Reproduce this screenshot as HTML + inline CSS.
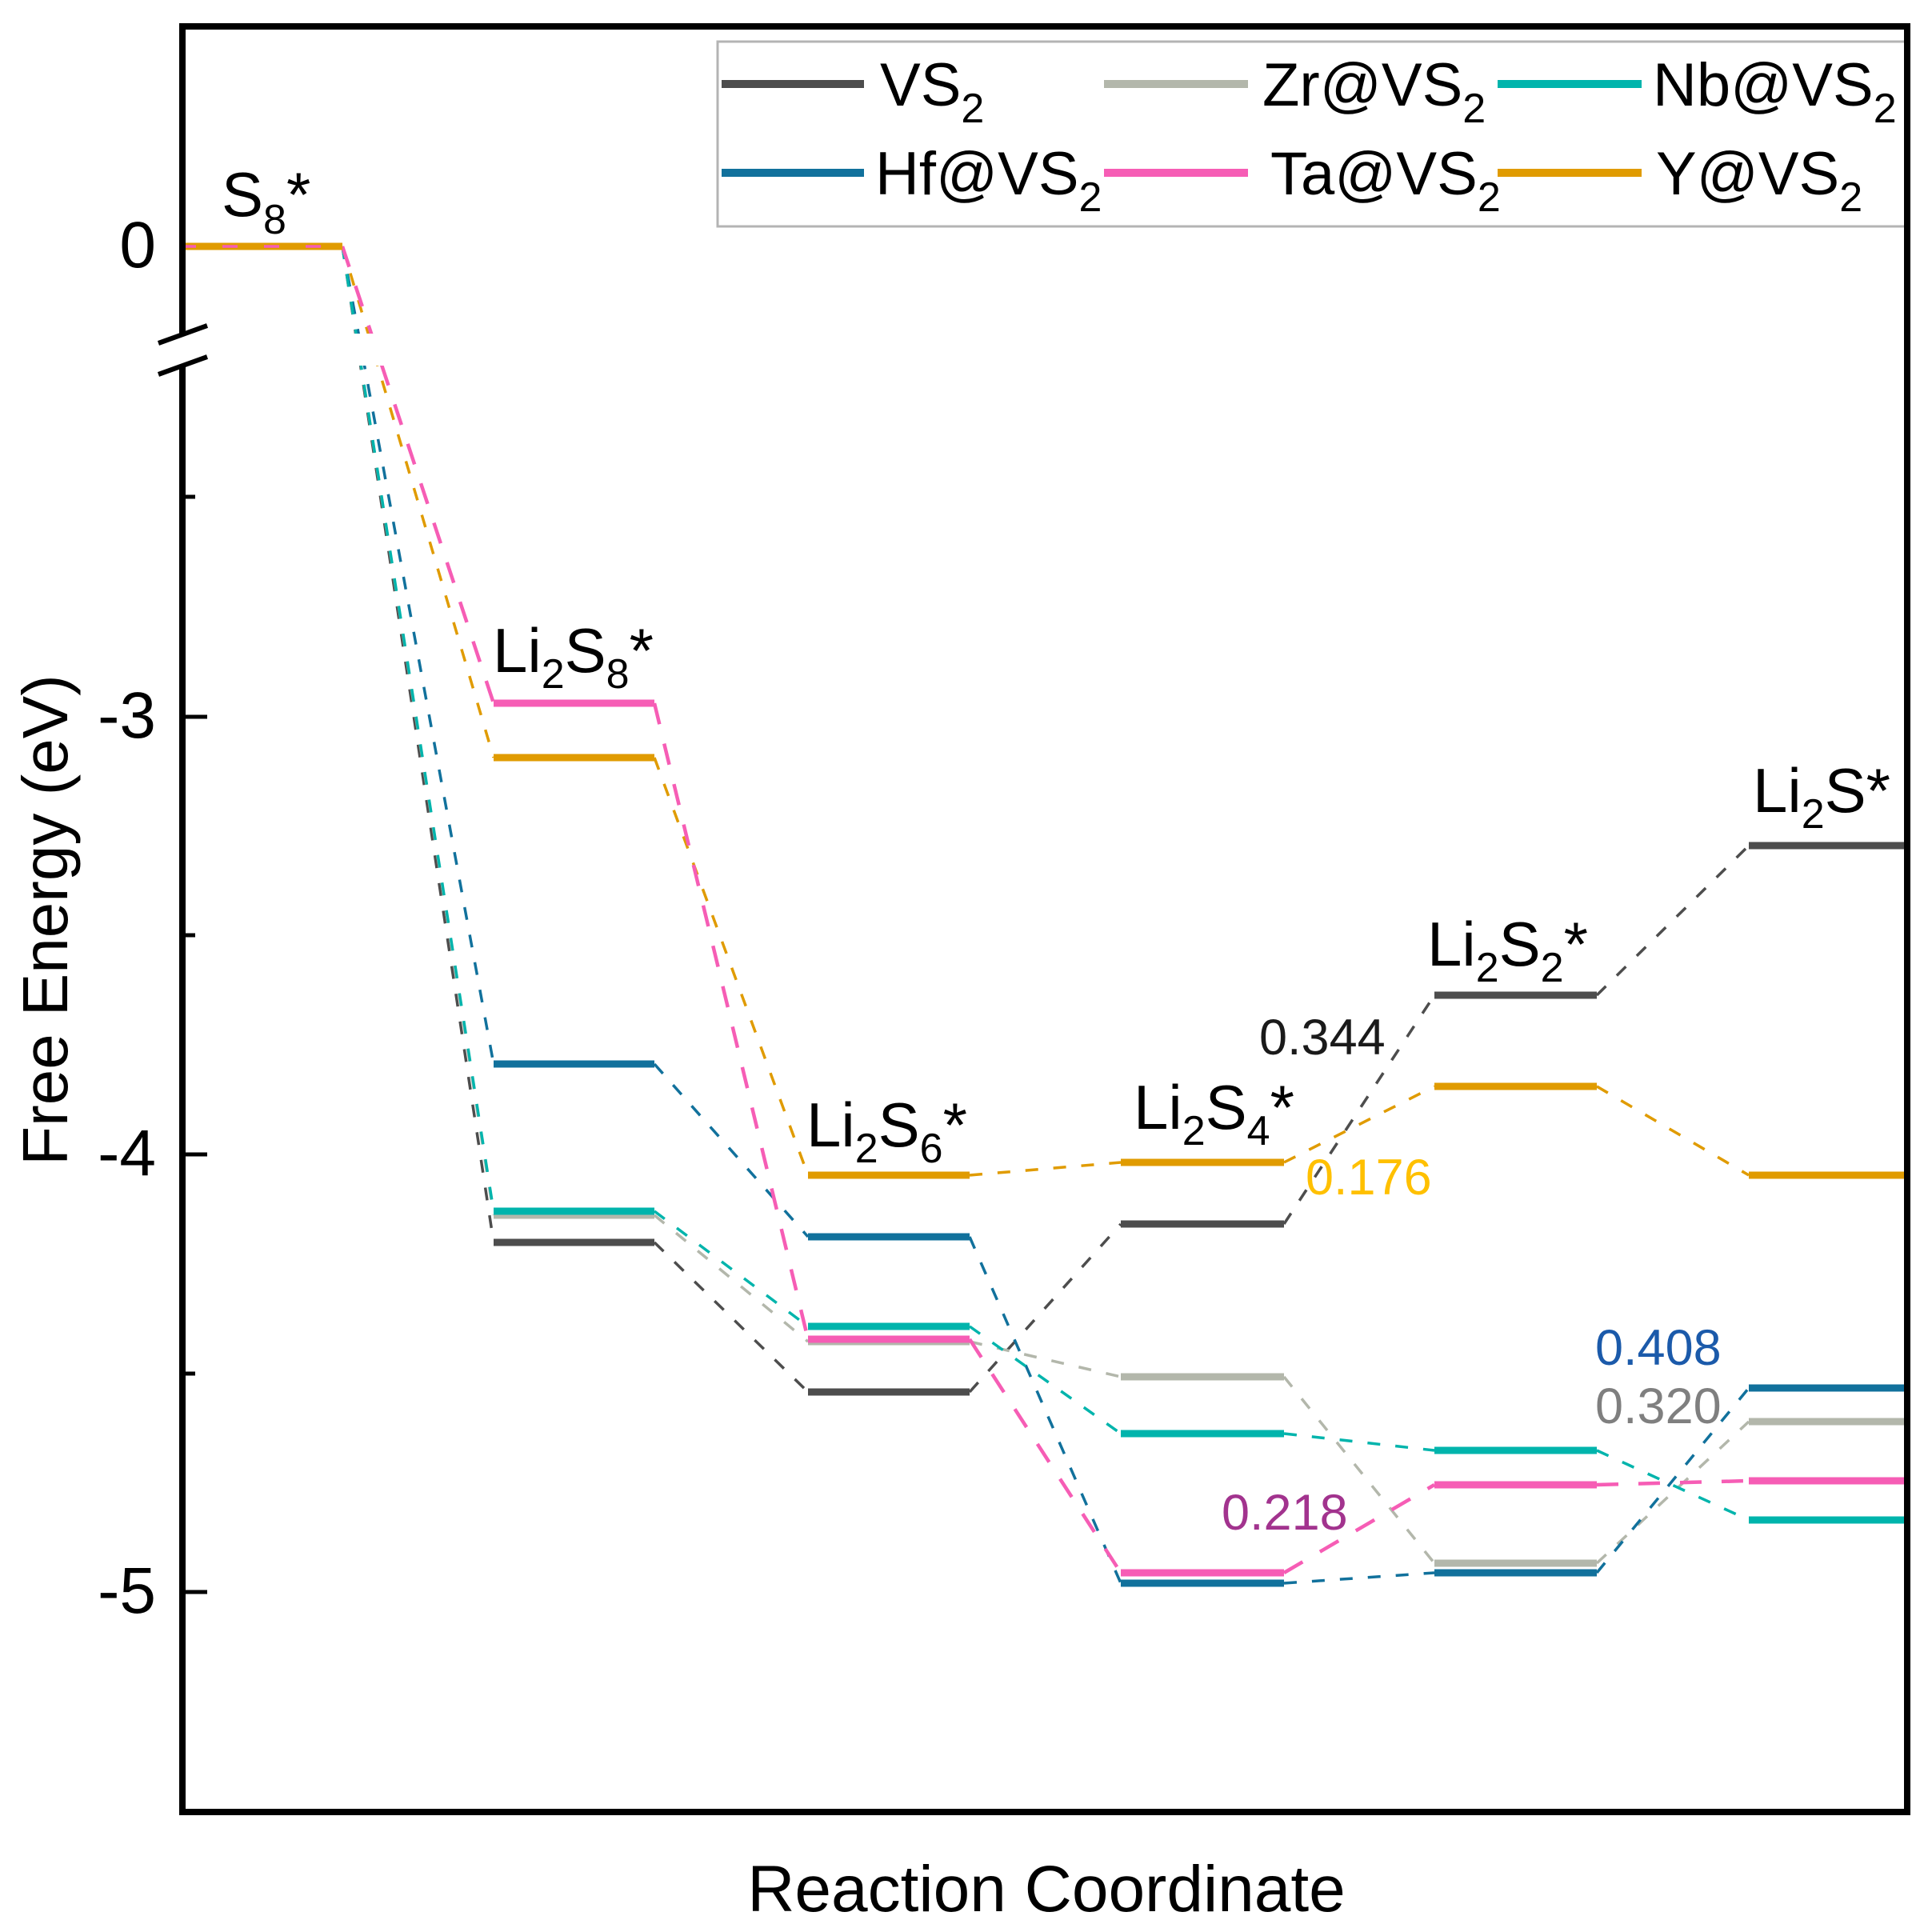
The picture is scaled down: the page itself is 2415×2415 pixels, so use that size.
<!DOCTYPE html>
<html>
<head>
<meta charset="utf-8">
<style>
html,body{margin:0;padding:0;background:#fff;overflow:hidden;}
svg{display:block;}
text{font-family:"Liberation Sans",Arial,sans-serif;}
</style>
</head>
<body>
<svg xmlns="http://www.w3.org/2000/svg" width="2415" height="2415" viewBox="0 0 2415 2415">
<rect x="0" y="0" width="2415" height="2415" fill="#fff"/>

<!-- connectors -->
<g fill="none" stroke-width="3.5" stroke-dasharray="16 19">
  <!-- VS2 -->
  <polyline stroke="#4d4d4d" points="428,308 617,1553"/>
  <polyline stroke="#4d4d4d" points="818,1553 1010,1740"/>
  <polyline stroke="#4d4d4d" points="1212,1740 1401,1530"/>
  <polyline stroke="#4d4d4d" points="1605,1530 1793,1244"/>
  <polyline stroke="#4d4d4d" points="1996,1244 2186,1057"/>
  <!-- Zr -->
  <polyline stroke="#b3b7ab" points="428,308 617,1519"/>
  <polyline stroke="#b3b7ab" points="818,1519 1010,1677"/>
  <polyline stroke="#b3b7ab" points="1212,1677 1401,1721"/>
  <polyline stroke="#b3b7ab" points="1605,1721 1793,1954"/>
  <polyline stroke="#b3b7ab" points="1996,1954 2186,1777"/>
  <!-- Hf -->
  <polyline stroke="#11719c" points="428,308 617,1330"/>
  <polyline stroke="#11719c" points="818,1330 1010,1546"/>
  <polyline stroke="#11719c" points="1212,1546 1401,1979"/>
  <polyline stroke="#11719c" points="1605,1979 1793,1966"/>
  <polyline stroke="#11719c" points="1996,1966 2186,1735"/>
  <!-- Nb -->
  <polyline stroke="#00b4ac" points="428,308 617,1514"/>
  <polyline stroke="#00b4ac" points="818,1514 1010,1658"/>
  <polyline stroke="#00b4ac" points="1212,1658 1401,1792"/>
  <polyline stroke="#00b4ac" points="1605,1792 1793,1813"/>
  <polyline stroke="#00b4ac" points="1996,1813 2186,1900"/>
  <!-- Y -->
  <polyline stroke="#e09b00" points="428,308 617,947"/>
  <polyline stroke="#e09b00" points="818,947 1010,1469"/>
  <polyline stroke="#e09b00" points="1212,1469 1401,1453"/>
  <polyline stroke="#e09b00" points="1605,1453 1793,1358"/>
  <polyline stroke="#e09b00" points="1996,1358 2186,1469"/>
</g>
<g fill="none" stroke="#f65db5" stroke-width="4.5" stroke-dasharray="27 25">
  <polyline points="428,308 617,879"/>
  <polyline points="818,879 1010,1674"/>
  <polyline points="1212,1674 1401,1966"/>
  <polyline points="1605,1966 1793,1856"/>
  <polyline points="1996,1856 2186,1851"/>
</g>

<!-- axis break white band -->
<rect x="233" y="417" width="470" height="40" fill="#fff"/>

<!-- level segments -->
<g stroke-width="9" fill="none">
  <!-- VS2 -->
  <g stroke="#4d4d4d">
    <line x1="617" y1="1553" x2="818" y2="1553"/>
    <line x1="1010" y1="1740" x2="1212" y2="1740"/>
    <line x1="1401" y1="1530" x2="1605" y2="1530"/>
    <line x1="1793" y1="1244" x2="1996" y2="1244"/>
    <line x1="2186" y1="1057" x2="2384" y2="1057"/>
  </g>
  <!-- Zr -->
  <g stroke="#b3b7ab">
    <line x1="617" y1="1519" x2="818" y2="1519"/>
    <line x1="1010" y1="1677" x2="1212" y2="1677"/>
    <line x1="1401" y1="1721" x2="1605" y2="1721"/>
    <line x1="1793" y1="1954" x2="1996" y2="1954"/>
    <line x1="2186" y1="1777" x2="2384" y2="1777"/>
  </g>
  <!-- Hf -->
  <g stroke="#11719c">
    <line x1="617" y1="1330" x2="818" y2="1330"/>
    <line x1="1010" y1="1546" x2="1212" y2="1546"/>
    <line x1="1401" y1="1979" x2="1605" y2="1979"/>
    <line x1="1793" y1="1966" x2="1996" y2="1966"/>
    <line x1="2186" y1="1735" x2="2384" y2="1735"/>
  </g>
  <!-- Nb -->
  <g stroke="#00b4ac">
    <line x1="617" y1="1514" x2="818" y2="1514"/>
    <line x1="1010" y1="1658" x2="1212" y2="1658"/>
    <line x1="1401" y1="1792" x2="1605" y2="1792"/>
    <line x1="1793" y1="1813" x2="1996" y2="1813"/>
    <line x1="2186" y1="1900" x2="2384" y2="1900"/>
  </g>
  <!-- Ta -->
  <g stroke="#f65db5">
    <line x1="617" y1="879" x2="818" y2="879"/>
    <line x1="1010" y1="1674" x2="1212" y2="1674"/>
    <line x1="1401" y1="1966" x2="1605" y2="1966"/>
    <line x1="1793" y1="1856" x2="1996" y2="1856"/>
    <line x1="2186" y1="1851" x2="2384" y2="1851"/>
  </g>
  <!-- Y -->
  <g stroke="#e09b00">
    <line x1="228" y1="308" x2="428" y2="308"/>
    <line x1="617" y1="947" x2="818" y2="947"/>
    <line x1="1010" y1="1469" x2="1212" y2="1469"/>
    <line x1="1401" y1="1453" x2="1605" y2="1453"/>
    <line x1="1793" y1="1358" x2="1996" y2="1358"/>
    <line x1="2186" y1="1469" x2="2384" y2="1469"/>
  </g>
</g>
<!-- pink dashes over S8 level -->
<line x1="226" y1="308" x2="428" y2="308" stroke="#f65db5" stroke-width="3.5" stroke-dasharray="19 33"/>

<!-- legend -->
<rect x="897" y="52" width="1487" height="231" fill="#fff" stroke="#b4b4b4" stroke-width="3"/>
<g stroke-width="10">
  <line x1="902" y1="105" x2="1080" y2="105" stroke="#4d4d4d"/>
  <line x1="1380" y1="105" x2="1560" y2="105" stroke="#b3b7ab"/>
  <line x1="1872" y1="105" x2="2052" y2="105" stroke="#00b4ac"/>
  <line x1="902" y1="216" x2="1080" y2="216" stroke="#11719c"/>
  <line x1="1380" y1="216" x2="1560" y2="216" stroke="#f65db5"/>
  <line x1="1872" y1="216" x2="2052" y2="216" stroke="#e09b00"/>
</g>
<g font-size="76" fill="#000">
  <text x="1100" y="132">VS<tspan font-size="52" dy="21">2</tspan></text>
  <text x="1578" y="132">Zr@VS<tspan font-size="52" dy="21">2</tspan></text>
  <text x="2066" y="132">Nb@VS<tspan font-size="52" dy="21">2</tspan></text>
  <text x="1094" y="243">Hf@VS<tspan font-size="52" dy="21">2</tspan></text>
  <text x="1588" y="243">Ta@VS<tspan font-size="52" dy="21">2</tspan></text>
  <text x="2070" y="243">Y@VS<tspan font-size="52" dy="21">2</tspan></text>
</g>

<!-- axes -->
<g stroke="#000" stroke-width="8" stroke-linecap="square" fill="none">
  <line x1="228" y1="33" x2="2384" y2="33"/>
  <line x1="2384" y1="33" x2="2384" y2="2265"/>
  <line x1="228" y1="2265" x2="2384" y2="2265"/>
  <line x1="228" y1="33" x2="228" y2="418" stroke-linecap="butt"/>
  <line x1="228" y1="457" x2="228" y2="2265" stroke-linecap="butt"/>
</g>
<!-- break marks -->
<g stroke="#000" stroke-width="6">
  <line x1="198" y1="429" x2="259" y2="407"/>
  <line x1="198" y1="468" x2="259" y2="446"/>
</g>
<!-- ticks -->
<g stroke="#000" stroke-width="5">
  <line x1="228" y1="896" x2="259" y2="896"/>
  <line x1="228" y1="1443" x2="259" y2="1443"/>
  <line x1="228" y1="1990" x2="259" y2="1990"/>
  <line x1="228" y1="621" x2="244" y2="621"/>
  <line x1="228" y1="1169" x2="244" y2="1169"/>
  <line x1="228" y1="1717" x2="244" y2="1717"/>
</g>
<g font-size="82" fill="#000" text-anchor="end">
  <text x="195" y="334">0</text>
  <text x="195" y="922">-3</text>
  <text x="195" y="1469">-4</text>
  <text x="195" y="2016">-5</text>
</g>

<!-- axis titles -->
<text x="1308" y="2389" font-size="82" text-anchor="middle" fill="#000">Reaction Coordinate</text>
<text transform="translate(84,1150) rotate(-90)" font-size="80" text-anchor="middle" fill="#000">Free Energy (eV)</text>

<!-- state labels -->
<g font-size="78" fill="#000">
  <text x="277" y="270">S<tspan font-size="52" dy="22">8</tspan><tspan dy="-22">*</tspan></text>
  <text x="616" y="840">Li<tspan font-size="52" dy="20">2</tspan><tspan dy="-20">S</tspan><tspan font-size="52" dy="20">8</tspan><tspan dy="-20">*</tspan></text>
  <text x="1008" y="1433">Li<tspan font-size="52" dy="20">2</tspan><tspan dy="-20">S</tspan><tspan font-size="52" dy="20">6</tspan><tspan dy="-20">*</tspan></text>
  <text x="1417" y="1411">Li<tspan font-size="52" dy="20">2</tspan><tspan dy="-20">S</tspan><tspan font-size="52" dy="20">4</tspan><tspan dy="-20">*</tspan></text>
  <text x="1784" y="1207">Li<tspan font-size="52" dy="20">2</tspan><tspan dy="-20">S</tspan><tspan font-size="52" dy="20">2</tspan><tspan dy="-20">*</tspan></text>
  <text x="2191" y="1015">Li<tspan font-size="52" dy="20">2</tspan><tspan dy="-20">S*</tspan></text>
</g>

<!-- annotations -->
<g font-size="63">
  <text x="1574" y="1318" fill="#1a1a1a">0.344</text>
  <text x="1632" y="1493" fill="#ffc000">0.176</text>
  <text x="1527" y="1912" fill="#a2338e">0.218</text>
  <text x="1994" y="1706" fill="#1b5aaa">0.408</text>
  <text x="1994" y="1779" fill="#7f7f7f">0.320</text>
</g>
</svg>
</body>
</html>
